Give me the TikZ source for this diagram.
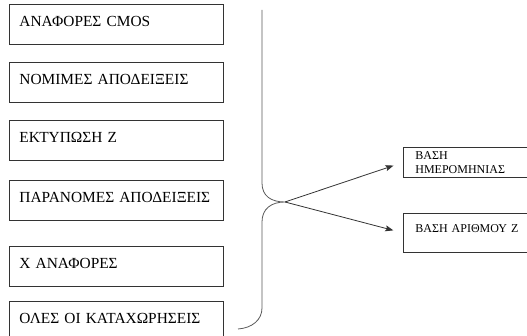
\documentclass[tikz,border=0pt]{standalone}
\usepackage{fontspec}
\setmainfont{Liberation Serif}
\usetikzlibrary{arrows.meta}

\begin{document}
\begin{tikzpicture}[x=1pt, y=-1pt,
        leftbox/.style={draw=black!80, line width=0.8pt, anchor=north west,
            text width=194pt, align=left, inner xsep=10pt, inner ysep=12pt,
            text height=10.5pt, text depth=5.5pt, text=black,
            font=\fontsize{15.4}{17}\selectfont},
        rightbox/.style={draw=black!80, line width=0.8pt, anchor=north west,
            text width=130pt, align=left, inner xsep=12pt, text=black,
            font=\fontsize{12}{14}\selectfont},
        brace/.style={draw=black!65, line width=0.8pt},
        arr/.style={draw=black!80, line width=0.8pt, shorten >=10pt,
            -{Stealth[length=8pt, width=6pt, inset=1.5pt]}}]
        \useasboundingbox (0,0) rectangle (527,336);
        \clip (0,0) rectangle (527,336);

        \node[leftbox] (cmos)    at (9,4)   {ΑΝΑΦΟΡΕΣ CMOS};
        \node[leftbox] (nomimes) at (9,62)  {ΝΟΜΙΜΕΣ ΑΠΟΔΕΙΞΕΙΣ};
        \node[leftbox] (print)   at (9,120) {ΕΚΤΥΠΩΣΗ Z};
        \node[leftbox] (paran)   at (9,180) {ΠΑΡΑΝΟΜΕΣ ΑΠΟΔΕΙΞΕΙΣ};
        \node[leftbox] (xrep)    at (9,246) {X ΑΝΑΦΟΡΕΣ};
        \node[leftbox] (all)     at (9,301) {ΟΛΕΣ ΟΙ ΚΑΤΑΧΩΡΗΣΕΙΣ};

        \node[rightbox, inner ysep=1.5pt, minimum height=30pt] (dateBox) at (403,147)
            {ΒΑΣΗ\\ΗΜΕΡΟΜΗΝΙΑΣ};
        \node[rightbox, inner ysep=11pt, text height=8.5pt, text depth=8.5pt] (numBox) at (403,213)
            {ΒΑΣΗ ΑΡΙΘΜΟΥ Z};

        \coordinate (braceTop) at (262,10);
        \coordinate (tip) at (285,202);
        \coordinate (braceEnd) at (238,329);
        \draw[brace] (braceTop) -- (262,183)
            .. controls (262,196) and (271,202) .. (tip)
            .. controls (271,202) and (262,209) .. (262,222)
            -- (262,308)
            .. controls (262,320) and (252,328) .. (braceEnd);

        \draw[arr] (tip) -- (dateBox.west);
        \draw[arr] (tip) -- (numBox.west);

    \end{tikzpicture}
\end{document}
